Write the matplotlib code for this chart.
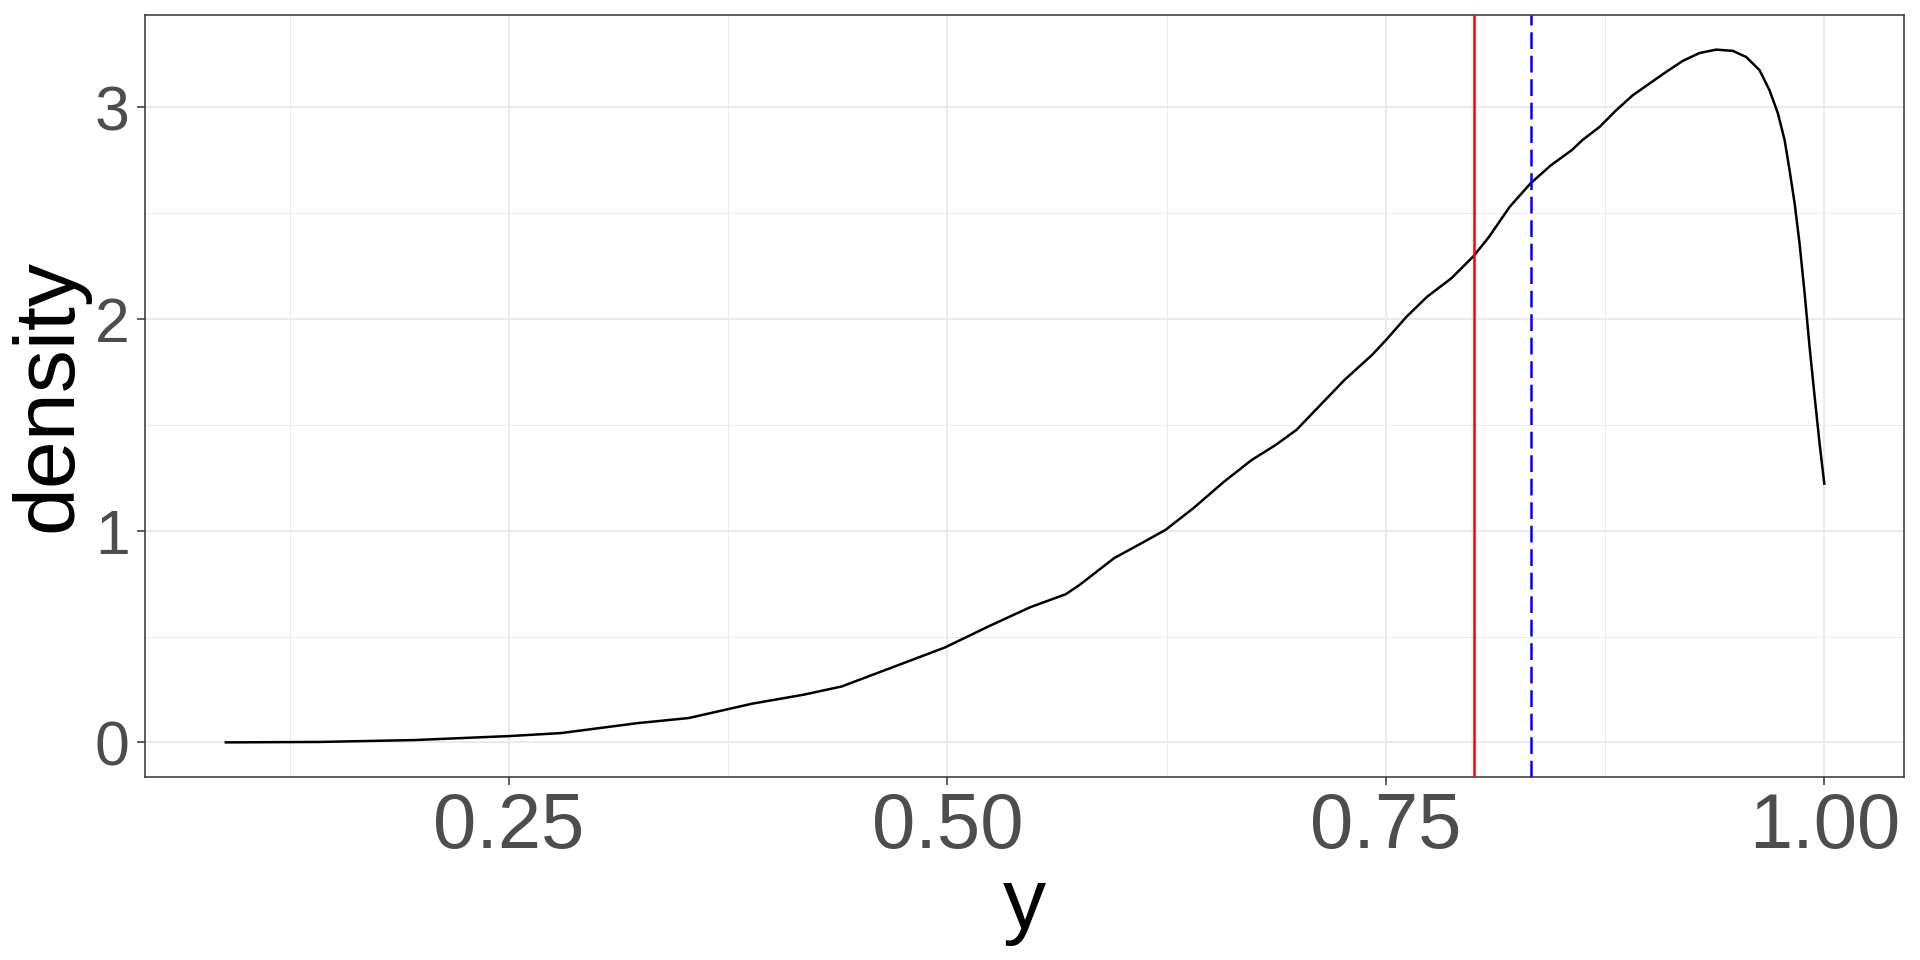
import matplotlib
matplotlib.use("Agg")
from matplotlib import pyplot as plt
from matplotlib.ticker import MultipleLocator

plt.rcParams['font.family'] = ['Liberation Sans', 'DejaVu Sans']

# density curve
y_vals = [0.0879, 0.1417, 0.1961, 0.2507, 0.2797, 0.3234, 0.3525, 0.3888,
          0.4179, 0.4397, 0.4672, 0.4985, 0.5240, 0.5471, 0.5675, 0.5754,
          0.5950, 0.6107, 0.6244, 0.6402, 0.6578, 0.6735, 0.6872, 0.6990,
          0.7127, 0.7264, 0.7421, 0.7500, 0.7618, 0.7735, 0.7873, 0.8000,
          0.8088, 0.8206, 0.8324, 0.8441, 0.8559, 0.8619, 0.8718, 0.8813,
          0.8908, 0.9003, 0.9098, 0.9193, 0.9288, 0.9383, 0.9478, 0.9554,
          0.9630, 0.9687, 0.9735, 0.9773, 0.9801, 0.9830, 0.9858, 0.9887,
          0.9915, 0.9944, 0.9972, 1.0000]
dens = [0.000, 0.002, 0.011, 0.030, 0.044, 0.091, 0.115, 0.183,
        0.225, 0.264, 0.350, 0.448, 0.550, 0.638, 0.700, 0.744,
        0.870, 0.941, 1.004, 1.106, 1.232, 1.334, 1.405, 1.476,
        1.594, 1.712, 1.830, 1.900, 2.011, 2.105, 2.192, 2.297,
        2.388, 2.530, 2.640, 2.726, 2.797, 2.844, 2.907, 2.986,
        3.057, 3.112, 3.167, 3.219, 3.256, 3.272, 3.266, 3.237,
        3.175, 3.080, 2.970, 2.844, 2.703, 2.546, 2.357, 2.121,
        1.869, 1.633, 1.413, 1.216]

red_x = 0.8004
blue_x = 0.8329

x_ticks = [0.25, 0.50, 0.75, 1.00]
x_labels = ["0.25", "0.50", "0.75", "1.00"]
y_ticks = [0, 1, 2, 3]

fig = plt.figure(figsize=(19.2, 9.6), dpi=100)
ax = fig.add_axes([0.0753, 0.1906, 0.9919 - 0.0753, 0.9844 - 0.1906])

xr = max(y_vals) - min(y_vals)
ax.set_xlim(min(y_vals) - 0.05 * xr, max(y_vals) + 0.05 * xr)
yr = max(dens) - min(dens)
ax.set_ylim(min(dens) - 0.05 * yr, max(dens) + 0.05 * yr)

# ggplot-ish grid
ax.set_xticks(x_ticks)
ax.set_xticklabels(x_labels)
ax.set_yticks(y_ticks)
ax.xaxis.set_minor_locator(MultipleLocator(0.125))
ax.yaxis.set_minor_locator(MultipleLocator(0.5))
ax.grid(True, which='major', color='#EBEBEB', lw=1.45, zorder=0)
ax.grid(True, which='minor', color='#EBEBEB', lw=0.75, zorder=0)
ax.set_axisbelow(True)
ax.tick_params(which='minor', length=0)
ax.tick_params(which='major', length=5.8, width=1.1, color='#333333',
               labelcolor='#4D4D4D')
ax.tick_params(axis='x', labelsize=56, pad=4)
ax.tick_params(axis='y', labelsize=45, pad=5)
for s in ax.spines.values():
    s.set_color('#333333')
    s.set_linewidth(1.1)

ax.plot(y_vals, dens, color='black', lw=1.8, zorder=3,
        solid_joinstyle='round', solid_capstyle='butt')
ax.axvline(red_x, color='red', lw=1.8, zorder=4)
ax.axvline(blue_x, color='blue', lw=1.8, dashes=(6.7, 2.7), zorder=4)

ax.set_xlabel("y", fontsize=62, labelpad=2)
ax.set_ylabel("density", fontsize=62, labelpad=4)

fig.savefig("out.png", dpi=100)
